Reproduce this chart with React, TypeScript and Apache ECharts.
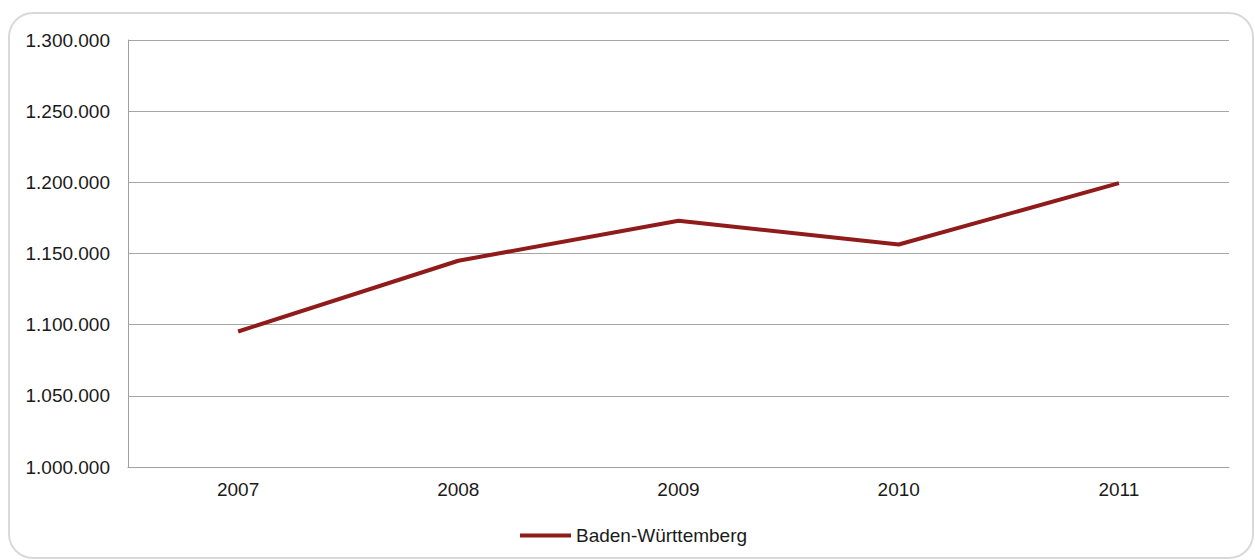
import React, { useEffect, useRef } from "react";
import * as echarts from "echarts";

const categories = ["2007", "2008", "2009", "2010", "2011"];
const seriesName = "Baden-Württemberg";
const values = [1095200, 1144900, 1173000, 1156300, 1199400];
const yMin = 1000000;
const yMax = 1300000;
const yStep = 50000;

function fmt(v: number): string {
  const s = Math.round(v).toString();
  return s.replace(/\B(?=(\d{3})+(?!\d))/g, ".");
}

export default function App() {
  const ref = useRef<HTMLDivElement>(null);
  useEffect(() => {
    if (!ref.current) return;
    const chart = echarts.init(ref.current, undefined, { renderer: "svg" });
    chart.setOption({
      animation: false,
      backgroundColor: "#ffffff",
      textStyle: { fontFamily: "Liberation Sans, Arial, sans-serif" },
      graphic: [
        {
          type: "rect",
          shape: { x: 9, y: 13, width: 1244, height: 545, r: 24 },
          style: { fill: "none", stroke: "#d9d9d9", lineWidth: 2 },
          silent: true,
        },
      ],
      grid: { left: 128, right: 26, top: 40, bottom: 93, containLabel: false },
      xAxis: {
        type: "category",
        data: categories,
        boundaryGap: true,
        axisLine: { show: true, lineStyle: { color: "#a0a0a0", width: 1 } },
        axisTick: { show: false },
        axisLabel: { color: "#1a1a1a", fontSize: 19, margin: 13 },
        splitLine: { show: false },
      },
      yAxis: {
        type: "value",
        min: yMin,
        max: yMax,
        interval: yStep,
        axisLine: { show: true, lineStyle: { color: "#a0a0a0", width: 1 } },
        axisTick: { show: false },
        axisLabel: { color: "#1a1a1a", fontSize: 19, margin: 18, formatter: (v: number) => fmt(v) },
        splitLine: { show: true, lineStyle: { color: "#a6a6a6", width: 1 } },
      },
      legend: {
        show: true,
        top: 521,
        left: 515,
        itemWidth: 51,
        itemHeight: 22,
        itemGap: 5,
        icon: "path://M0,9 L51,9 L51,13 L0,13 Z",
        textStyle: { color: "#1a1a1a", fontSize: 19 },
        data: [seriesName],
      },
      series: [
        {
          name: seriesName,
          type: "line",
          data: values,
          symbol: "none",
          lineStyle: { color: "#8f1b1b", width: 4 },
          itemStyle: { color: "#8f1b1b" },
        },
      ],
    });
    return () => chart.dispose();
  }, []);
  return (
    <div
      ref={ref}
      style={{ position: "fixed", left: 0, top: 0, width: 1255, height: 560 }}
    />
  );
}
